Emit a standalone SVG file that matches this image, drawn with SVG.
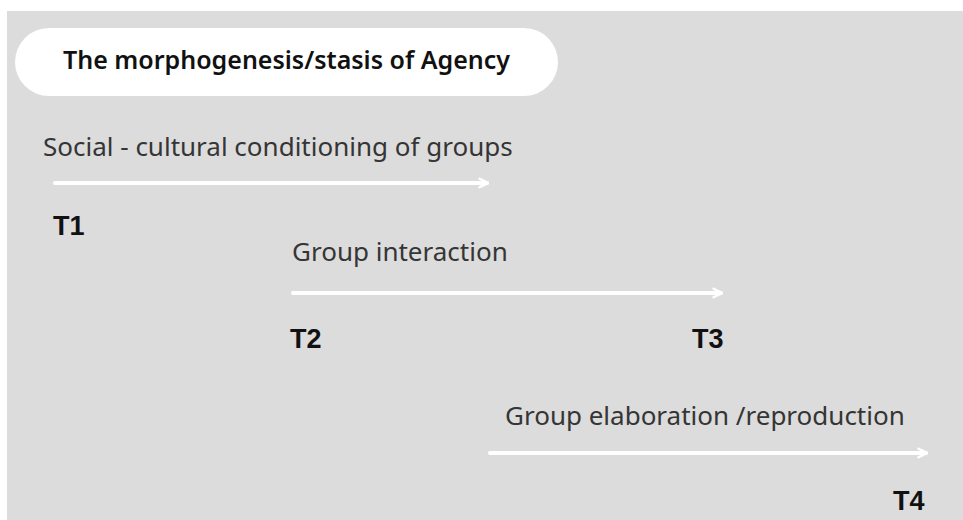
<svg xmlns="http://www.w3.org/2000/svg" width="963" height="520" viewBox="0 0 963 520">
<defs>
<style>
.lbl{font-family:"Noto Sans","Open Sans",sans-serif;font-size:26px;fill:#353535}
.t{font-family:"Liberation Sans",Arial,sans-serif;font-size:27px;font-weight:bold;fill:#111111}
.title{font-family:"Noto Sans","Open Sans",sans-serif;font-size:25px;font-weight:600;fill:#111111}
.arr{stroke:#ffffff;stroke-width:4;fill:none;stroke-linecap:round}
</style>
<marker id="ah" viewBox="0 0 10 10" refX="8" refY="5" markerWidth="3" markerHeight="3" orient="auto" markerUnits="strokeWidth">
<path d="M1,1 L9,5 L1,9" fill="none" stroke="#ffffff" stroke-width="2"/>
</marker>
</defs>
<rect x="0" y="0" width="963" height="520" fill="#ffffff"/>
<rect x="7" y="11" width="956" height="509" fill="#dcdcdc"/>
<g id="title">
<rect x="15" y="28" width="543" height="68" rx="34" fill="#ffffff"/>
<text class="title" x="63" y="69">The morphogenesis/stasis of Agency</text>
</g>
<g id="n1">
<text class="lbl" x="43" y="156">Social - cultural conditioning of groups</text>
<text class="t" x="53" y="235">T1</text>
</g>
<g id="n2">
<text class="lbl" x="292" y="261">Group interaction</text>
<text class="t" x="290" y="348">T2</text>
<text class="t" x="692" y="348">T3</text>
</g>
<g id="n3">
<text class="lbl" x="505" y="425">Group elaboration /reproduction</text>
<text class="t" x="893" y="510">T4</text>
</g>
<g id="connectors">
<line class="arr" x1="55" y1="183" x2="487" y2="183" marker-end="url(#ah)"/>
<line class="arr" x1="293" y1="293" x2="721" y2="293" marker-end="url(#ah)"/>
<line class="arr" x1="490" y1="453" x2="926" y2="453" marker-end="url(#ah)"/>
</g>
</svg>
